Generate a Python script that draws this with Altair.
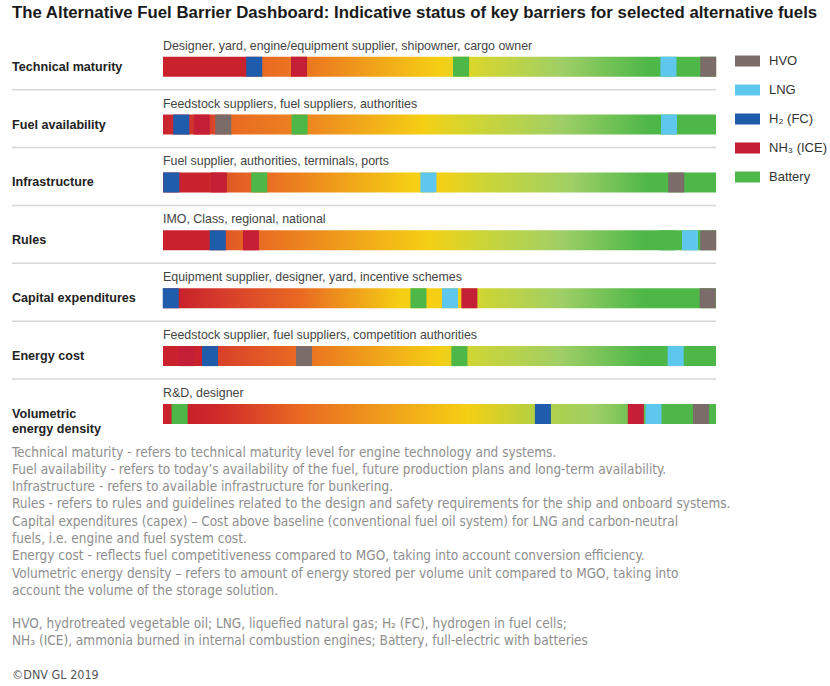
import altair as alt
import pandas as pd

# ---------------- data ----------------
barriers = ["Technical maturity", "Fuel availability", "Infrastructure", "Rules",
            "Capital expenditures", "Energy cost", "Volumetric\nenergy density"]
stakeholders = [
    "Designer, yard, engine/equipment supplier, shipowner, cargo owner",
    "Feedstock suppliers, fuel suppliers, authorities",
    "Fuel supplier, authorities, terminals, ports",
    "IMO, Class, regional, national",
    "Equipment supplier, designer, yard, incentive schemes",
    "Feedstock supplier, fuel suppliers, competition authorities",
    "R&D, designer",
]
fuels = ["HVO", "LNG", "H\u2082 (FC)", "NH\u2083 (ICE)", "Battery"]
fuel_colors = ["#7b6c69", "#5ec7ee", "#1f5cab", "#c41f36", "#4db848"]

# indicative status position (0 = major barrier, 100 = no barrier) per barrier row
hvo_pos = [98.6, 10.9, 92.8, 98.6, 98.5, 25.5, 97.3]
lng_pos = [91.4, 91.5, 48.0, 95.3, 51.9, 92.7, 88.7]
h2_pos = [16.5, 3.3, 1.5, 9.9, 1.4, 8.5, 68.7]
nh3_pos = [24.6, 7.0, 10.1, 15.9, 55.4, 4.3, 85.5]
battery_pos = [53.9, 24.7, 17.4, 91.2, 46.2, 53.6, 3.0]

definition_lines = [
    "Technical maturity - refers to technical maturity level for engine technology and systems.",
    "Fuel availability - refers to today\u2019s availability of the fuel, future production plans and long-term availability.",
    "Infrastructure - refers to available infrastructure for bunkering.",
    "Rules - refers to rules and guidelines related to the design and safety requirements for the ship and onboard systems.",
    "Capital expenditures (capex) \u2013 Cost above baseline (conventional fuel oil system) for LNG and carbon-neutral",
    "fuels, i.e. engine and fuel system cost.",
    "Energy cost - reflects fuel competitiveness compared to MGO, taking into account conversion efficiency.",
    "Volumetric energy density \u2013 refers to amount of energy stored per volume unit compared to MGO, taking into",
    "account the volume of the storage solution.",
]
abbreviation_lines = [
    "HVO, hydrotreated vegetable oil; LNG, liquefied natural gas; H\u2082 (FC), hydrogen in fuel cells;",
    "NH\u2083 (ICE), ammonia burned in internal combustion engines; Battery, full-electric with batteries",
]
title_text = "The Alternative Fuel Barrier Dashboard: Indicative status of key barriers for selected alternative fuels"
copyright_text = "\u00a9DNV GL 2019"

# ---------------- styling ----------------
R, O, Y, LG, G = "#c9222c", "#e96a22", "#f5cf14", "#9fcf66", "#4db748"
row_gradients = [
    [(0, R), (0.15, R), (0.18, O), (0.27, "#ec7a20"), (0.5, Y), (0.56, "#d9d62c"), (0.72, LG), (0.88, G), (1, G)],
    [(0, R), (0.09, "#d8452a"), (0.12, O), (0.26, "#ed8520"), (0.47, Y), (0.55, "#d4d530"), (0.72, LG), (0.88, G), (1, G)],
    [(0, R), (0.08, R), (0.12, "#e05a25"), (0.18, O), (0.45, Y), (0.5, Y), (0.58, "#cdd535"), (0.74, LG), (0.88, G), (1, G)],
    [(0, R), (0.085, R), (0.12, "#e05a25"), (0.17, O), (0.48, Y), (0.57, "#cdd535"), (0.72, LG), (0.87, G), (1, G)],
    [(0, R), (0.03, R), (0.12, "#d8402a"), (0.25, O), (0.43, Y), (0.53, Y), (0.58, "#cdd535"), (0.72, LG), (0.87, G), (1, G)],
    [(0, R), (0.07, R), (0.1, "#d8402a"), (0.24, O), (0.5, Y), (0.55, "#d0d532"), (0.72, LG), (0.87, G), (1, G)],
    [(0, R), (0.05, R), (0.1, "#d02a2a"), (0.25, O), (0.55, Y), (0.67, "#b5d040"), (0.78, LG), (0.9, G), (1, G)],
]
MARKER_HALF = 1.45
FONT = "Liberation Sans"
NARROW = "Liberation Sans Narrow, DejaVu Sans Condensed, sans-serif"

rows_df = pd.DataFrame({
    "row": list(range(len(barriers))),
    "barrier": barriers,
    "stakeholders": stakeholders,
    "start": [0] * len(barriers),
    "end": [100] * len(barriers),
})

recs = []
for fuel, vals in zip(fuels, [hvo_pos, lng_pos, h2_pos, nh3_pos, battery_pos]):
    for i, v in enumerate(vals):
        recs.append({"row": i, "fuel": fuel, "pos": v})
markers_df = pd.DataFrame(recs)

xscale = alt.Scale(domain=[0, 100], range=[163, 716], nice=False, zero=False, padding=0)
yscale = alt.Scale(domain=[0, 6], range=[66.7, 414], nice=False, zero=False, padding=0)
Yenc = alt.Y("row:Q", scale=yscale, axis=None)

# separators
sep = alt.Chart(rows_df).transform_filter(alt.datum.row < 6).mark_rule(
    color="#d9d6d6", strokeWidth=1.5, yOffset=23
).encode(x=alt.value(12), x2=alt.value(716), y=Yenc)

layers = [sep]
for i, stops in enumerate(row_gradients):
    grad = alt.LinearGradient(
        gradient="linear",
        stops=[alt.GradientStop(offset=o, color=c) for o, c in stops],
        x1=0, x2=1, y1=0, y2=0,
    )
    layers.append(
        alt.Chart(rows_df).transform_filter(alt.datum.row == i).mark_bar(
            size=20, color=grad
        ).encode(
            x=alt.X("start:Q", scale=xscale, axis=None),
            x2="end:Q",
            y=Yenc,
        )
    )

markers = alt.Chart(markers_df).transform_calculate(
    x0=f"datum.pos - {MARKER_HALF}", x1=f"datum.pos + {MARKER_HALF}"
).mark_bar(size=20).encode(
    x=alt.X("x0:Q", scale=xscale, axis=None),
    x2="x1:Q",
    y=Yenc,
    color=alt.Color(
        "fuel:N",
        scale=alt.Scale(domain=fuels, range=fuel_colors),
        legend=alt.Legend(
            title=None, orient="none", legendX=735, legendY=48.5,
            symbolType="M-1,-0.44L1,-0.44L1,0.44L-1,0.44Z", symbolSize=625,
            symbolStrokeWidth=0, symbolOpacity=1,
            labelFont=FONT, labelFontSize=13, labelColor="#333333",
            labelOffset=9, rowPadding=9, padding=0,
        ),
    ),
)
layers.append(markers)

labels = alt.Chart(rows_df).mark_text(
    align="left", baseline="middle", fontWeight="bold", fontSize=12.6,
    font=FONT, color="#222222", lineBreak="\n", lineHeight=15
).encode(x=alt.value(12), y=Yenc, text="barrier:N")

headers = alt.Chart(rows_df).mark_text(
    align="left", baseline="middle", fontSize=12.4, font=FONT, color="#444444", dy=-21
).encode(x=alt.X("start:Q", scale=xscale, axis=None), y=Yenc, text="stakeholders:N")

one = pd.DataFrame({"k": [0]})
title = alt.Chart(one).mark_text(
    text=title_text, align="left", baseline="middle", fontSize=16.8,
    fontWeight="bold", font=FONT, color="#1a1a1a"
).encode(x=alt.value(12), y=alt.value(13))

notes = alt.Chart(one).mark_text(
    text=definition_lines, align="left", baseline="alphabetic", fontSize=13.5,
    font=NARROW, color="#8e8e8e", lineHeight=17.3
).encode(x=alt.value(12), y=alt.value(456.5))

abbrev = alt.Chart(one).mark_text(
    text=abbreviation_lines, align="left", baseline="alphabetic", fontSize=13.5,
    font=NARROW, color="#8e8e8e", lineHeight=17.3
).encode(x=alt.value(12), y=alt.value(627.5))

copy = alt.Chart(one).mark_text(
    text=copyright_text, align="left", baseline="middle", fontSize=12.5,
    font=NARROW, color="#555555"
).encode(x=alt.value(12), y=alt.value(675))

layers += [labels, headers, title, notes, abbrev, copy]

chart = alt.layer(*layers).properties(
    width=830, height=686,
    autosize=alt.AutoSizeParams(type="none"),
    padding=0,
    background="white",
).configure_view(stroke=None)

chart.save("out.html", embed_options={"renderer": "svg", "actions": False})
